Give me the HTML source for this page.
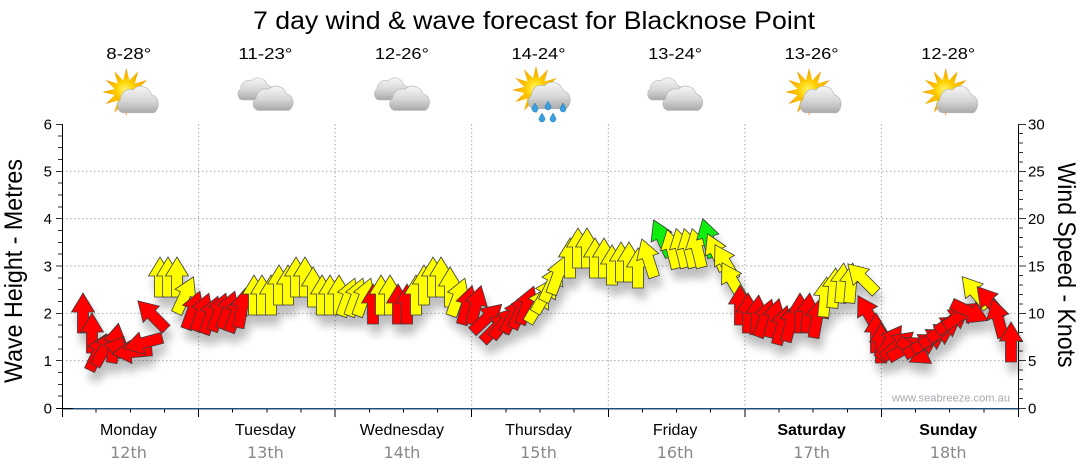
<!DOCTYPE html>
<html>
<head>
<meta charset="utf-8">
<style>
html,body{margin:0;padding:0;background:#fff;}
svg{display:block;}
</style>
</head>
<body>
<svg width="1080" height="475" viewBox="0 0 1080 475" xmlns="http://www.w3.org/2000/svg">
<defs>
  <path id="ar" d="M0,-20 L11.5,-1 L5.5,-1 L5.5,20 L-5.5,20 L-5.5,-1 L-11.5,-1 Z" stroke="#3c3c3c" stroke-width="0.8" stroke-linejoin="miter"/>
  <filter id="sh" x="-10%" y="-20%" width="125%" height="160%">
    <feGaussianBlur in="SourceAlpha" stdDeviation="4.5"/>
    <feOffset dx="3" dy="10" result="o"/>
    <feComponentTransfer><feFuncA type="linear" slope="0.26"/></feComponentTransfer>
    <feMerge><feMergeNode/><feMergeNode in="SourceGraphic"/></feMerge>
  </filter>
  <linearGradient id="cg" x1="0" y1="0" x2="0" y2="1">
    <stop offset="0" stop-color="#f6f6f6"/>
    <stop offset="0.55" stop-color="#d6d6d6"/>
    <stop offset="1" stop-color="#a9a9a9"/>
  </linearGradient>
  <radialGradient id="sung" cx="0.45" cy="0.4" r="0.6">
    <stop offset="0" stop-color="#fff36a"/>
    <stop offset="0.6" stop-color="#ffd200"/>
    <stop offset="1" stop-color="#f5a300"/>
  </radialGradient>
  <radialGradient id="rayg" cx="0.5" cy="0.5" r="0.5">
    <stop offset="0.4" stop-color="#ffd000"/>
    <stop offset="1" stop-color="#f09a00"/>
  </radialGradient>
  <g id="sun">
    <polygon points="0,-24 3.1,-11.6 12,-20.8 8.5,-8.5 20.8,-12 11.6,-3.1 24,0 11.6,3.1 20.8,12 8.5,8.5 12,20.8 3.1,11.6 0,24 -3.1,11.6 -12,20.8 -8.5,8.5 -20.8,12 -11.6,3.1 -24,0 -11.6,-3.1 -20.8,-12 -8.5,-8.5 -12,-20.8 -3.1,-11.6" fill="url(#rayg)"/>
    <circle r="12" fill="url(#sung)"/>
  </g>
  <path id="cloud" d="M6 24 A6 6 0 0 1 4 13 A9 9 0 0 1 16 5 A11 11 0 0 1 34 9 A8 8 0 0 1 36 24 Z" fill="url(#cg)" stroke="#b5b5b5" stroke-width="0.6"/>
  <g id="drop"><path d="M0,-4 C1.5,-1 3,0.5 3,2 A3 3 0 0 1 -3,2 C-3,0.5 -1.5,-1 0,-4 Z" fill="#3aa0e0" stroke="#1f78b8" stroke-width="0.5"/></g>
</defs>

<!-- Title -->
<text x="253" y="29" font-family="Liberation Sans, sans-serif" font-size="25" fill="#000" textLength="562" lengthAdjust="spacingAndGlyphs">7 day wind &amp; wave forecast for Blacknose Point</text>

<!-- Temps -->
<g font-family="Liberation Sans, sans-serif" font-size="16" fill="#000" text-anchor="middle">
  <text x="128.8" y="59" textLength="45" lengthAdjust="spacingAndGlyphs">8-28°</text>
  <text x="265.4" y="59" textLength="54" lengthAdjust="spacingAndGlyphs">11-23°</text>
  <text x="401.9" y="59" textLength="54" lengthAdjust="spacingAndGlyphs">12-26°</text>
  <text x="538.5" y="59" textLength="54" lengthAdjust="spacingAndGlyphs">14-24°</text>
  <text x="675.1" y="59" textLength="54" lengthAdjust="spacingAndGlyphs">13-24°</text>
  <text x="811.6" y="59" textLength="54" lengthAdjust="spacingAndGlyphs">13-26°</text>
  <text x="948.2" y="59" textLength="54" lengthAdjust="spacingAndGlyphs">12-28°</text>
</g>

<!-- Icons -->
<g transform="translate(130.3,0)">
  <use href="#sun" transform="translate(-4,92)"/>
  <use href="#cloud" transform="translate(-14,84) scale(1.04,1.2)"/>
</g>
<g transform="translate(266.9,0)">
  <use href="#cloud" transform="translate(-30,76) scale(0.9,1)"/>
  <use href="#cloud" transform="translate(-15,84) scale(1.02,1.1)"/>
</g>
<g transform="translate(403.4,0)">
  <use href="#cloud" transform="translate(-30,76) scale(0.9,1)"/>
  <use href="#cloud" transform="translate(-15,84) scale(1.02,1.1)"/>
</g>
<g transform="translate(540,0)">
  <use href="#sun" transform="translate(-4,90)"/>
  <use href="#cloud" transform="translate(-13,80) scale(1.07,1.2)"/>
  <use href="#drop" transform="translate(-5,107)"/>
  <use href="#drop" transform="translate(8,105)"/>
  <use href="#drop" transform="translate(23,107)"/>
  <use href="#drop" transform="translate(2,117)"/>
  <use href="#drop" transform="translate(13,117)"/>
</g>
<g transform="translate(676.6,0)">
  <use href="#cloud" transform="translate(-30,76) scale(0.9,1)"/>
  <use href="#cloud" transform="translate(-15,84) scale(1.02,1.1)"/>
</g>
<g transform="translate(813.1,0)">
  <use href="#sun" transform="translate(-4,92)"/>
  <use href="#cloud" transform="translate(-14,84) scale(1.04,1.2)"/>
</g>
<g transform="translate(949.7,0)">
  <use href="#sun" transform="translate(-4,92)"/>
  <use href="#cloud" transform="translate(-14,84) scale(1.04,1.2)"/>
</g>

<!-- Grid -->
<g stroke="#a8a8a8" stroke-width="1" stroke-dasharray="1.5,2.5" fill="none">
  <path d="M62 360.67H1018M62 313.33H1018M62 266H1018M62 218.67H1018M62 171.33H1018"/>
  <path d="M198.57 124V408M335.14 124V408M471.71 124V408M608.29 124V408M744.86 124V408M881.43 124V408"/>
</g>

<!-- Axes -->
<g shape-rendering="crispEdges" fill="none">
  <path d="M62.5 124V408" stroke="#000" stroke-width="1"/>
  <path d="M1018.5 124V408" stroke="#000" stroke-width="1"/>
  <path stroke="#333" stroke-width="1" d="M56 408.5H62M58 396.17H62M58 384.33H62M58 372.5H62M56 360.67H62M58 348.83H62M58 337H62M58 325.17H62M56 313.33H62M58 301.5H62M58 289.67H62M58 277.83H62M56 266H62M58 254.17H62M58 242.33H62M58 230.5H62M56 218.67H62M58 206.83H62M58 195H62M58 183.17H62M56 171.33H62M58 159.5H62M58 147.67H62M58 135.83H62M56 124.5H62"/>
  <path stroke="#333" stroke-width="1" d="M1018 408.5H1026M1018 398.53H1023M1018 389.07H1023M1018 379.6H1023M1018 370.13H1023M1018 360.67H1026M1018 351.2H1023M1018 341.73H1023M1018 332.27H1023M1018 322.8H1023M1018 313.33H1026M1018 303.87H1023M1018 294.4H1023M1018 284.93H1023M1018 275.47H1023M1018 266H1026M1018 256.53H1023M1018 247.07H1023M1018 237.6H1023M1018 228.13H1023M1018 218.67H1026M1018 209.2H1023M1018 199.73H1023M1018 190.27H1023M1018 180.8H1023M1018 171.33H1026M1018 161.87H1023M1018 152.4H1023M1018 142.93H1023M1018 133.47H1023M1018 124.5H1026"/>
  <path stroke="#000" stroke-width="1" d="M62.5 408V417M96.14 408V412.5M130.29 408V412.5M164.43 408V412.5M198.57 408V417M232.71 408V412.5M266.86 408V412.5M301 408V412.5M335.14 408V417M369.29 408V412.5M403.43 408V412.5M437.57 408V412.5M471.71 408V417M505.86 408V412.5M540 408V412.5M574.14 408V412.5M608.29 408V417M642.43 408V412.5M676.57 408V412.5M710.71 408V412.5M744.86 408V417M779 408V412.5M813.14 408V412.5M847.29 408V412.5M881.43 408V417M915.57 408V412.5M949.71 408V412.5M983.86 408V412.5M1018.5 408V417"/>
  <path d="M62 408.5H1018" stroke="#1f4e79" stroke-width="1.5"/>
  <path d="M56 408.5H73" stroke="#000" stroke-width="1"/>
</g>

<!-- Axis labels -->
<g font-family="Liberation Sans, sans-serif" font-size="15" fill="#000">
  <g text-anchor="end">
    <text x="52" y="413.5">0</text>
    <text x="52" y="366">1</text>
    <text x="52" y="318.5">2</text>
    <text x="52" y="271.5">3</text>
    <text x="52" y="224">4</text>
    <text x="52" y="176.5">5</text>
    <text x="52" y="129.5">6</text>
  </g>
  <g text-anchor="start">
    <text x="1028" y="413.5">0</text>
    <text x="1028" y="366">5</text>
    <text x="1028" y="318.5">10</text>
    <text x="1028" y="271.5">15</text>
    <text x="1028" y="224">20</text>
    <text x="1028" y="176.5">25</text>
    <text x="1028" y="129.5">30</text>
  </g>
</g>

<!-- Axis titles -->
<text transform="translate(22,271) rotate(-90)" text-anchor="middle" font-family="Liberation Sans, sans-serif" font-size="25" fill="#000" textLength="224" lengthAdjust="spacingAndGlyphs">Wave Height - Metres</text>
<text transform="translate(1058,265) rotate(90)" text-anchor="middle" font-family="Liberation Sans, sans-serif" font-size="25" fill="#000" textLength="205" lengthAdjust="spacingAndGlyphs">Wind Speed - Knots</text>

<!-- Day labels -->
<g font-family="Liberation Sans, sans-serif" font-size="16" fill="#000" text-anchor="middle">
  <text x="128.5" y="435">Monday</text>
  <text x="265.4" y="435">Tuesday</text>
  <text x="401.9" y="435">Wednesday</text>
  <text x="538.5" y="435">Thursday</text>
  <text x="675.1" y="435">Friday</text>
  <text x="811.6" y="435" font-weight="bold">Saturday</text>
  <text x="948.2" y="435" font-weight="bold">Sunday</text>
</g>
<g font-family="DejaVu Sans, sans-serif" font-size="16" fill="#888" text-anchor="middle">
  <text x="128.5" y="458">12th</text>
  <text x="265.4" y="458">13th</text>
  <text x="401.9" y="458">14th</text>
  <text x="538.5" y="458">15th</text>
  <text x="675.1" y="458">16th</text>
  <text x="811.6" y="458">17th</text>
  <text x="948.2" y="458">18th</text>
</g>

<!-- Watermark -->
<text x="892" y="401.5" font-family="Liberation Sans, sans-serif" font-size="11" fill="#a6aab4" textLength="118" lengthAdjust="spacingAndGlyphs">www.seabreeze.com.au</text>

<!-- Arrows -->
<g filter="url(#sh)">
<use href="#ar" transform="translate(83,313) rotate(0)" fill="#ff0000"/>
<use href="#ar" transform="translate(92,333) rotate(0)" fill="#ff0000"/>
<use href="#ar" transform="translate(98,352) rotate(25)" fill="#ff0000"/>
<use href="#ar" transform="translate(105,348) rotate(30)" fill="#ff0000"/>
<use href="#ar" transform="translate(115,343) rotate(10)" fill="#ff0000"/>
<use href="#ar" transform="translate(123,348) rotate(-80)" fill="#ff0000"/>
<use href="#ar" transform="translate(132,352) rotate(-95)" fill="#ff0000"/>
<use href="#ar" transform="translate(143,343) rotate(-105)" fill="#ff0000"/>
<use href="#ar" transform="translate(152,315) rotate(-45)" fill="#ff0000"/>
<use href="#ar" transform="translate(160,277) rotate(0)" fill="#ffff00"/>
<use href="#ar" transform="translate(168,277) rotate(0)" fill="#ffff00"/>
<use href="#ar" transform="translate(177,277) rotate(0)" fill="#ffff00"/>
<use href="#ar" transform="translate(185,295) rotate(25)" fill="#ffff00"/>
<use href="#ar" transform="translate(193,310) rotate(20)" fill="#ff0000"/>
<use href="#ar" transform="translate(202,312) rotate(20)" fill="#ff0000"/>
<use href="#ar" transform="translate(211,315) rotate(20)" fill="#ff0000"/>
<use href="#ar" transform="translate(219,312) rotate(20)" fill="#ff0000"/>
<use href="#ar" transform="translate(228,310) rotate(20)" fill="#ff0000"/>
<use href="#ar" transform="translate(236,313) rotate(20)" fill="#ff0000"/>
<use href="#ar" transform="translate(242,308) rotate(10)" fill="#ff0000"/>
<use href="#ar" transform="translate(254,295) rotate(0)" fill="#ffff00"/>
<use href="#ar" transform="translate(262,295) rotate(0)" fill="#ffff00"/>
<use href="#ar" transform="translate(271,295) rotate(0)" fill="#ffff00"/>
<use href="#ar" transform="translate(279,285) rotate(0)" fill="#ffff00"/>
<use href="#ar" transform="translate(288,285) rotate(0)" fill="#ffff00"/>
<use href="#ar" transform="translate(296,277) rotate(0)" fill="#ffff00"/>
<use href="#ar" transform="translate(305,277) rotate(0)" fill="#ffff00"/>
<use href="#ar" transform="translate(313,287) rotate(0)" fill="#ffff00"/>
<use href="#ar" transform="translate(322,295) rotate(0)" fill="#ffff00"/>
<use href="#ar" transform="translate(330,295) rotate(0)" fill="#ffff00"/>
<use href="#ar" transform="translate(339,295) rotate(0)" fill="#ffff00"/>
<use href="#ar" transform="translate(348,297) rotate(20)" fill="#ffff00"/>
<use href="#ar" transform="translate(356,297) rotate(20)" fill="#ffff00"/>
<use href="#ar" transform="translate(364,297) rotate(20)" fill="#ffff00"/>
<use href="#ar" transform="translate(373,304) rotate(0)" fill="#ff0000"/>
<use href="#ar" transform="translate(381,295) rotate(0)" fill="#ffff00"/>
<use href="#ar" transform="translate(390,295) rotate(0)" fill="#ffff00"/>
<use href="#ar" transform="translate(398,304) rotate(0)" fill="#ff0000"/>
<use href="#ar" transform="translate(407,304) rotate(0)" fill="#ff0000"/>
<use href="#ar" transform="translate(416,295) rotate(0)" fill="#ffff00"/>
<use href="#ar" transform="translate(424,285) rotate(0)" fill="#ffff00"/>
<use href="#ar" transform="translate(433,277) rotate(0)" fill="#ffff00"/>
<use href="#ar" transform="translate(441,277) rotate(0)" fill="#ffff00"/>
<use href="#ar" transform="translate(450,287) rotate(0)" fill="#ffff00"/>
<use href="#ar" transform="translate(458,297) rotate(20)" fill="#ffff00"/>
<use href="#ar" transform="translate(467,305) rotate(15)" fill="#ff0000"/>
<use href="#ar" transform="translate(476,305) rotate(15)" fill="#ff0000"/>
<use href="#ar" transform="translate(487,318) rotate(47)" fill="#ff0000"/>
<use href="#ar" transform="translate(497,327) rotate(45)" fill="#ff0000"/>
<use href="#ar" transform="translate(505,322) rotate(40)" fill="#ff0000"/>
<use href="#ar" transform="translate(514,315) rotate(30)" fill="#ff0000"/>
<use href="#ar" transform="translate(521,310) rotate(25)" fill="#ff0000"/>
<use href="#ar" transform="translate(527,305) rotate(20)" fill="#ff0000"/>
<use href="#ar" transform="translate(538,305) rotate(30)" fill="#ffff00"/>
<use href="#ar" transform="translate(545,295) rotate(30)" fill="#ffff00"/>
<use href="#ar" transform="translate(552,283) rotate(25)" fill="#ffff00"/>
<use href="#ar" transform="translate(558,275) rotate(20)" fill="#ffff00"/>
<use href="#ar" transform="translate(570,258) rotate(0)" fill="#ffff00"/>
<use href="#ar" transform="translate(578,248) rotate(0)" fill="#ffff00"/>
<use href="#ar" transform="translate(587,248) rotate(0)" fill="#ffff00"/>
<use href="#ar" transform="translate(595,258) rotate(0)" fill="#ffff00"/>
<use href="#ar" transform="translate(604,258) rotate(0)" fill="#ffff00"/>
<use href="#ar" transform="translate(612,265) rotate(0)" fill="#ffff00"/>
<use href="#ar" transform="translate(621,262) rotate(0)" fill="#ffff00"/>
<use href="#ar" transform="translate(629,262) rotate(0)" fill="#ffff00"/>
<use href="#ar" transform="translate(638,268) rotate(0)" fill="#ffff00"/>
<use href="#ar" transform="translate(648,258) rotate(-18)" fill="#ffff00"/>
<use href="#ar" transform="translate(662,238) rotate(-25)" fill="#11ee11"/>
<use href="#ar" transform="translate(672,249) rotate(-14)" fill="#ffff00"/>
<use href="#ar" transform="translate(681,248) rotate(-14)" fill="#ffff00"/>
<use href="#ar" transform="translate(689,248) rotate(-14)" fill="#ffff00"/>
<use href="#ar" transform="translate(697,248) rotate(-14)" fill="#ffff00"/>
<use href="#ar" transform="translate(708,238) rotate(-15)" fill="#11ee11"/>
<use href="#ar" transform="translate(716,252) rotate(-25)" fill="#ffff00"/>
<use href="#ar" transform="translate(725,262) rotate(-30)" fill="#ffff00"/>
<use href="#ar" transform="translate(732,280) rotate(-30)" fill="#ffff00"/>
<use href="#ar" transform="translate(740,305) rotate(0)" fill="#ff0000"/>
<use href="#ar" transform="translate(748,313) rotate(0)" fill="#ff0000"/>
<use href="#ar" transform="translate(757,315) rotate(5)" fill="#ff0000"/>
<use href="#ar" transform="translate(765,318) rotate(20)" fill="#ff0000"/>
<use href="#ar" transform="translate(774,318) rotate(15)" fill="#ff0000"/>
<use href="#ar" transform="translate(782,325) rotate(15)" fill="#ff0000"/>
<use href="#ar" transform="translate(791,322) rotate(15)" fill="#ff0000"/>
<use href="#ar" transform="translate(800,313) rotate(0)" fill="#ff0000"/>
<use href="#ar" transform="translate(808,313) rotate(5)" fill="#ff0000"/>
<use href="#ar" transform="translate(817,318) rotate(10)" fill="#ff0000"/>
<use href="#ar" transform="translate(825,297) rotate(5)" fill="#ffff00"/>
<use href="#ar" transform="translate(834,288) rotate(5)" fill="#ffff00"/>
<use href="#ar" transform="translate(842,283) rotate(5)" fill="#ffff00"/>
<use href="#ar" transform="translate(851,283) rotate(5)" fill="#ffff00"/>
<use href="#ar" transform="translate(862,278) rotate(-45)" fill="#ffff00"/>
<use href="#ar" transform="translate(868,313) rotate(-30)" fill="#ff0000"/>
<use href="#ar" transform="translate(876,333) rotate(0)" fill="#ff0000"/>
<use href="#ar" transform="translate(881,343) rotate(0)" fill="#ff0000"/>
<use href="#ar" transform="translate(890,342) rotate(35)" fill="#ff0000"/>
<use href="#ar" transform="translate(898,345) rotate(50)" fill="#ff0000"/>
<use href="#ar" transform="translate(906,348) rotate(60)" fill="#ff0000"/>
<use href="#ar" transform="translate(915,352) rotate(125)" fill="#ff0000"/>
<use href="#ar" transform="translate(922,345) rotate(60)" fill="#ff0000"/>
<use href="#ar" transform="translate(930,340) rotate(60)" fill="#ff0000"/>
<use href="#ar" transform="translate(938,335) rotate(60)" fill="#ff0000"/>
<use href="#ar" transform="translate(945,328) rotate(55)" fill="#ff0000"/>
<use href="#ar" transform="translate(953,320) rotate(55)" fill="#ff0000"/>
<use href="#ar" transform="translate(961,315) rotate(55)" fill="#ff0000"/>
<use href="#ar" transform="translate(970,312) rotate(115)" fill="#ff0000"/>
<use href="#ar" transform="translate(975,292) rotate(-40)" fill="#ffff00"/>
<use href="#ar" transform="translate(990,302) rotate(-40)" fill="#ff0000"/>
<use href="#ar" transform="translate(998,318) rotate(-15)" fill="#ff0000"/>
<use href="#ar" transform="translate(1011,342) rotate(0)" fill="#ff0000"/>
</g>
</svg>
</body>
</html>
